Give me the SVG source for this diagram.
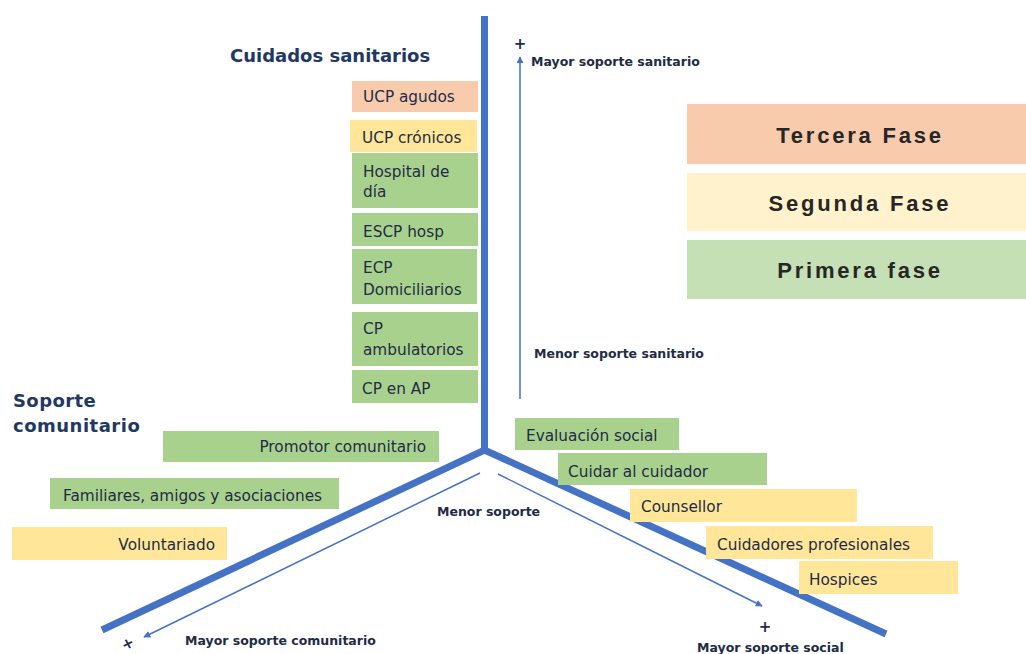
<svg xmlns="http://www.w3.org/2000/svg" width="1026" height="654" viewBox="0 0 1026 654">
<defs>
<marker id="ah" viewBox="0 0 10 10" refX="9" refY="5" markerWidth="7" markerHeight="7" markerUnits="userSpaceOnUse" orient="auto">
<path d="M0,0 L10,5 L0,10 z" fill="#4472C4"/>
</marker>
<style>
.bt{font-family:"DejaVu Sans",Verdana,sans-serif;font-size:15.3px;fill:#222B45}
.sm{font-family:"DejaVu Sans",Verdana,sans-serif;font-size:12.5px;font-weight:bold;fill:#222B45}
.ttl{font-family:"DejaVu Sans",Verdana,sans-serif;font-size:18px;font-weight:bold;fill:#1F3864}
.ph{font-family:"Liberation Sans",Arial,sans-serif;font-size:22px;font-weight:bold;fill:#262626;letter-spacing:2.8px}
.pl{font-family:"DejaVu Sans",sans-serif;font-size:15px;font-weight:bold;fill:#222B45}
.peach{fill:#F8CBAD}
.yel{fill:#FFE699}
.grn{fill:#A9D18E}
.thick{stroke:#4472C4;stroke-width:7;fill:none;stroke-linejoin:miter}
.thin{stroke:#4472C4;stroke-width:1.5;fill:none}
</style>
</defs>
<rect width="1026" height="654" fill="#FFFFFF"/>

<g id="connectors">
<path class="thick" d="M484.5,16 L484.5,450"/>
<path class="thick" d="M102,630 L484.5,450 L886,634"/>
<line class="thin" x1="520" y1="399" x2="520" y2="57" marker-end="url(#ah)"/>
<line class="thin" x1="480" y1="473" x2="144" y2="637" marker-end="url(#ah)"/>
<line class="thin" x1="498" y1="474" x2="762" y2="606" marker-end="url(#ah)"/>
</g>

<g id="axis-labels">
<text class="pl" x="520" y="49" text-anchor="middle">+</text>
<text class="sm" x="531" y="66">Mayor soporte sanitario</text>
<text class="sm" x="534" y="358">Menor soporte sanitario</text>
<text class="sm" x="437" y="516">Menor soporte</text>
<text class="pl" x="0" y="0" text-anchor="middle" transform="translate(130,648) rotate(-28)">+</text>
<text class="sm" x="185" y="645">Mayor soporte comunitario</text>
<text class="pl" x="765" y="632" text-anchor="middle">+</text>
<text class="sm" x="697" y="652">Mayor soporte social</text>
</g>

<g id="title-sanitarios"><text class="ttl" x="230" y="62">Cuidados sanitarios</text></g>
<g id="title-comunitario">
<text class="ttl" x="13" y="407" style="letter-spacing:0.4px">Soporte</text>
<text class="ttl" x="13" y="432" style="letter-spacing:0.5px">comunitario</text>
</g>

<g id="ucp-agudos"><rect class="peach" x="352" y="81" width="126" height="31"/><text class="bt" x="363" y="102">UCP agudos</text></g>
<g id="ucp-cronicos"><rect class="yel" x="350" y="120" width="127" height="32"/><text class="bt" x="362" y="143">UCP crónicos</text></g>
<g id="hospital-dia"><rect class="grn" x="352" y="153" width="126" height="55"/><text class="bt" x="363" y="177">Hospital de</text><text class="bt" x="363" y="197">día</text></g>
<g id="escp-hosp"><rect class="grn" x="352" y="213" width="126" height="33"/><text class="bt" x="363" y="237">ESCP hosp</text></g>
<g id="ecp-domiciliarios"><rect class="grn" x="352" y="249" width="125" height="55"/><text class="bt" x="363" y="273">ECP</text><text class="bt" x="363" y="295">Domiciliarios</text></g>
<g id="cp-ambulatorios"><rect class="grn" x="352" y="312" width="126" height="54"/><text class="bt" x="363" y="334">CP</text><text class="bt" x="363" y="355">ambulatorios</text></g>
<g id="cp-en-ap"><rect class="grn" x="352" y="370" width="126" height="33"/><text class="bt" x="362" y="394">CP en AP</text></g>

<g id="promotor"><rect class="grn" x="163" y="431" width="276" height="31"/><text class="bt" x="426" y="452" text-anchor="end">Promotor comunitario</text></g>
<g id="familiares"><rect class="grn" x="50" y="478" width="289" height="31"/><text class="bt" x="63" y="501">Familiares, amigos y asociaciones</text></g>
<g id="voluntariado"><rect class="yel" x="12" y="527" width="215" height="33"/><text class="bt" x="215" y="550" text-anchor="end">Voluntariado</text></g>

<g id="evaluacion"><rect class="grn" x="515" y="418" width="164" height="32"/><text class="bt" x="526" y="441">Evaluación social</text></g>
<g id="cuidar"><rect class="grn" x="558" y="453" width="209" height="32"/><text class="bt" x="568" y="477">Cuidar al cuidador</text></g>
<g id="counsellor"><rect class="yel" x="630" y="489" width="227" height="33"/><text class="bt" x="641" y="512">Counsellor</text></g>
<g id="cuidadores"><rect class="yel" x="706" y="526" width="227" height="33"/><text class="bt" x="717" y="550">Cuidadores profesionales</text></g>
<g id="hospices"><rect class="yel" x="799" y="561" width="159" height="33"/><text class="bt" x="809" y="585">Hospices</text></g>

<g id="tercera-fase"><rect fill="#F8CBAD" x="687" y="104" width="339" height="60"/><text class="ph" x="860" y="143" text-anchor="middle">Tercera Fase</text></g>
<g id="segunda-fase"><rect fill="#FFF2CC" x="687" y="173" width="339" height="58"/><text class="ph" x="860" y="211" text-anchor="middle">Segunda Fase</text></g>
<g id="primera-fase"><rect fill="#C5E0B4" x="687" y="240" width="339" height="59"/><text class="ph" x="860" y="278" text-anchor="middle">Primera fase</text></g>
</svg>
